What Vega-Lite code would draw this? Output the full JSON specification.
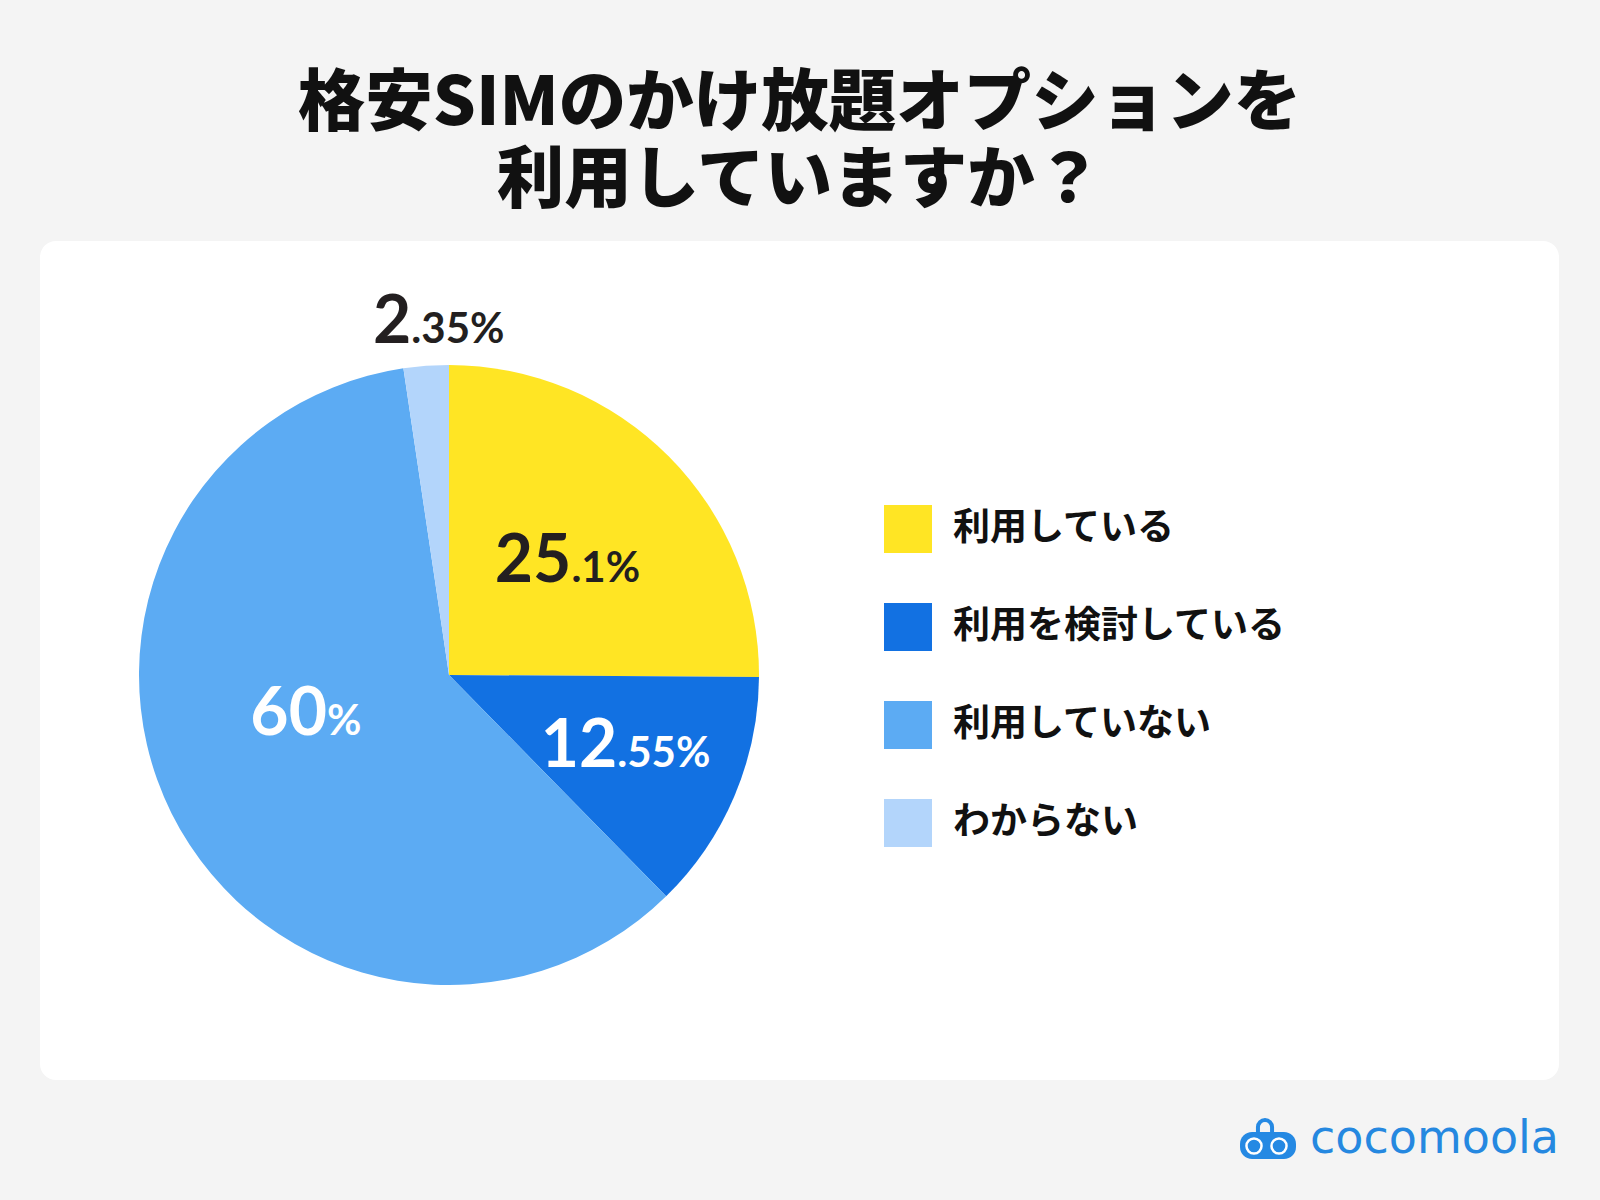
{
  "$schema": "https://vega.github.io/schema/vega-lite/v6.json",
  "width": 1519,
  "height": 839,
  "autosize": {"type": "none"},
  "padding": {"left": 40, "top": 241, "right": 41, "bottom": 120},
  "background": "#f4f4f4",
  "view": {"fill": "#ffffff", "stroke": null, "cornerRadius": 16},
  "params": [{"name": "cx", "value": 409}, {"name": "cy", "value": 434}],
  "title": {
    "text": ["格安SIMのかけ放題オプションを", "利用していますか？"],
    "anchor": "middle",
    "frame": "group",
    "font": "Noto Sans CJK JP",
    "fontSize": 67.5,
    "fontWeight": 900,
    "color": "#111111",
    "lineHeight": 77,
    "offset": 25
  },
  "config": {
    "view": {"fill": "#ffffff", "stroke": null, "cornerRadius": 16},
    "legend": {
      "padding": 0,
      "labelFont": "Noto Sans CJK JP",
      "labelFontSize": 37,
      "labelFontWeight": "bold",
      "labelColor": "#111111",
      "labelOffset": 21,
      "symbolType": "square",
      "symbolSize": 2304,
      "symbolStrokeWidth": 0,
      "symbolOpacity": 1,
      "rowPadding": 50,
      "labelLimit": 600
    }
  },
  "data": {
    "values": [
      {"category": "利用している", "value": 25.1, "order": 1, "int": "25", "dec": ".1%"},
      {"category": "利用を検討している", "value": 12.55, "order": 2, "int": "12", "dec": ".55%"},
      {"category": "利用していない", "value": 60, "order": 3, "int": "60", "dec": "%"},
      {"category": "わからない", "value": 2.35, "order": 4, "int": "2", "dec": ".35%"}
    ]
  },
  "layer": [
    {
      "mark": {"type": "arc", "outerRadius": 310, "x": {"expr": "cx"}, "y": {"expr": "cy"}, "stroke": null},
      "encoding": {
        "theta": {"field": "value", "type": "quantitative", "stack": true},
        "order": {"field": "order", "type": "quantitative"},
        "color": {
          "field": "category",
          "type": "nominal",
          "scale": {
            "domain": ["利用している", "利用を検討している", "利用していない", "わからない"],
            "range": ["#FFE524", "#1271E2", "#5CABF3", "#B3D5FB"]
          },
          "legend": {"title": null, "orient": "none", "legendX": 844, "legendY": 264}
        }
      }
    },
    {
      "mark": {"type": "text", "x": {"expr": "cx"}, "y": {"expr": "cy"}, "radius": 150, "dx": 16, "dy": 12.7, "align": "right", "baseline": "alphabetic", "font": "Lato", "fontWeight": "bold", "fontSize": 66, "fill": "#231f20"},
      "encoding": {
        "theta": {"field": "value", "type": "quantitative", "stack": true},
        "order": {"field": "order", "type": "quantitative"},
        "detail": {"field": "category", "type": "nominal"},
        "text": {"condition": {"test": "datum.category === '利用している'", "field": "int", "type": "nominal"}, "value": ""}
      }
    },
    {
      "mark": {"type": "text", "x": {"expr": "cx"}, "y": {"expr": "cy"}, "radius": 150, "dx": 16, "dy": 12.7, "align": "left", "baseline": "alphabetic", "font": "Lato", "fontWeight": "bold", "fontSize": 42, "fill": "#231f20"},
      "encoding": {
        "theta": {"field": "value", "type": "quantitative", "stack": true},
        "order": {"field": "order", "type": "quantitative"},
        "detail": {"field": "category", "type": "nominal"},
        "text": {"condition": {"test": "datum.category === '利用している'", "field": "dec", "type": "nominal"}, "value": ""}
      }
    },
    {
      "mark": {"type": "text", "x": {"expr": "cx"}, "y": {"expr": "cy"}, "radius": 199, "dx": -15, "dy": 14, "align": "right", "baseline": "alphabetic", "font": "Lato", "fontWeight": "bold", "fontSize": 66, "fill": "#ffffff"},
      "encoding": {
        "theta": {"field": "value", "type": "quantitative", "stack": true},
        "order": {"field": "order", "type": "quantitative"},
        "detail": {"field": "category", "type": "nominal"},
        "text": {"condition": {"test": "datum.category === '利用を検討している'", "field": "int", "type": "nominal"}, "value": ""}
      }
    },
    {
      "mark": {"type": "text", "x": {"expr": "cx"}, "y": {"expr": "cy"}, "radius": 199, "dx": -15, "dy": 14, "align": "left", "baseline": "alphabetic", "font": "Lato", "fontWeight": "bold", "fontSize": 42, "fill": "#ffffff"},
      "encoding": {
        "theta": {"field": "value", "type": "quantitative", "stack": true},
        "order": {"field": "order", "type": "quantitative"},
        "detail": {"field": "category", "type": "nominal"},
        "text": {"condition": {"test": "datum.category === '利用を検討している'", "field": "dec", "type": "nominal"}, "value": ""}
      }
    },
    {
      "mark": {"type": "text", "x": {"expr": "cx"}, "y": {"expr": "cy"}, "radius": 133, "dx": -3, "dy": 1, "align": "right", "baseline": "alphabetic", "font": "Lato", "fontWeight": "bold", "fontSize": 66, "fill": "#ffffff"},
      "encoding": {
        "theta": {"field": "value", "type": "quantitative", "stack": true},
        "order": {"field": "order", "type": "quantitative"},
        "detail": {"field": "category", "type": "nominal"},
        "text": {"condition": {"test": "datum.category === '利用していない'", "field": "int", "type": "nominal"}, "value": ""}
      }
    },
    {
      "mark": {"type": "text", "x": {"expr": "cx"}, "y": {"expr": "cy"}, "radius": 133, "dx": -3, "dy": 1, "align": "left", "baseline": "alphabetic", "font": "Lato", "fontWeight": "bold", "fontSize": 42, "fill": "#ffffff"},
      "encoding": {
        "theta": {"field": "value", "type": "quantitative", "stack": true},
        "order": {"field": "order", "type": "quantitative"},
        "detail": {"field": "category", "type": "nominal"},
        "text": {"condition": {"test": "datum.category === '利用していない'", "field": "dec", "type": "nominal"}, "value": ""}
      }
    },
    {
      "mark": {"type": "text", "x": {"expr": "cx"}, "y": {"expr": "cy"}, "radius": 334, "dx": -13, "dy": 1, "align": "right", "baseline": "alphabetic", "font": "Lato", "fontWeight": "bold", "fontSize": 66, "fill": "#231f20"},
      "encoding": {
        "theta": {"field": "value", "type": "quantitative", "stack": true},
        "order": {"field": "order", "type": "quantitative"},
        "detail": {"field": "category", "type": "nominal"},
        "text": {"condition": {"test": "datum.category === 'わからない'", "field": "int", "type": "nominal"}, "value": ""}
      }
    },
    {
      "mark": {"type": "text", "x": {"expr": "cx"}, "y": {"expr": "cy"}, "radius": 334, "dx": -13, "dy": 1, "align": "left", "baseline": "alphabetic", "font": "Lato", "fontWeight": "bold", "fontSize": 42, "fill": "#231f20"},
      "encoding": {
        "theta": {"field": "value", "type": "quantitative", "stack": true},
        "order": {"field": "order", "type": "quantitative"},
        "detail": {"field": "category", "type": "nominal"},
        "text": {"condition": {"test": "datum.category === 'わからない'", "field": "dec", "type": "nominal"}, "value": ""}
      }
    },
    {
      "data": {"values": [{"brand": "cocomoola"}]},
      "layer": [
        {
          "mark": {"type": "text", "x": {"expr": "width"}, "y": {"expr": "height + 73"}, "align": "right", "baseline": "alphabetic", "font": "DejaVu Sans", "fontWeight": "normal", "fontSize": 46, "fill": "#2588E0"},
          "encoding": {"text": {"field": "brand", "type": "nominal"}}
        },
        {
          "mark": {"type": "point", "x": {"expr": "width - 291"}, "y": {"expr": "height + 65.5"}, "shape": "M-0.57,-0.48 L0.57,-0.48 A0.43,0.43 0 0 1 1,-0.05 L1,0.05 A0.43,0.43 0 0 1 0.57,0.48 L-0.57,0.48 A0.43,0.43 0 0 1 -1,0.05 L-1,-0.05 A0.43,0.43 0 0 1 -0.57,-0.48 Z", "size": 3136, "filled": true, "fill": "#2589E3", "opacity": 1, "strokeWidth": 0},
          "encoding": {}
        },
        {
          "mark": {"type": "point", "x": {"expr": "width - 294"}, "y": {"expr": "height + 52"}, "shape": "M-0.47,0.1 L-0.47,-0.33 A0.47,0.47 0 0 1 0.47,-0.33 L0.47,0.1", "size": 900, "filled": false, "stroke": "#2589E3", "strokeWidth": 4, "opacity": 1},
          "encoding": {}
        },
        {
          "mark": {"type": "point", "x": {"expr": "width - 305"}, "y": {"expr": "height + 66"}, "shape": "circle", "size": 227, "filled": false, "stroke": "#ffffff", "strokeWidth": 2.5, "opacity": 1},
          "encoding": {}
        },
        {
          "mark": {"type": "point", "x": {"expr": "width - 280"}, "y": {"expr": "height + 66"}, "shape": "circle", "size": 227, "filled": false, "stroke": "#ffffff", "strokeWidth": 2.5, "opacity": 1},
          "encoding": {}
        }
      ]
    }
  ]
}
